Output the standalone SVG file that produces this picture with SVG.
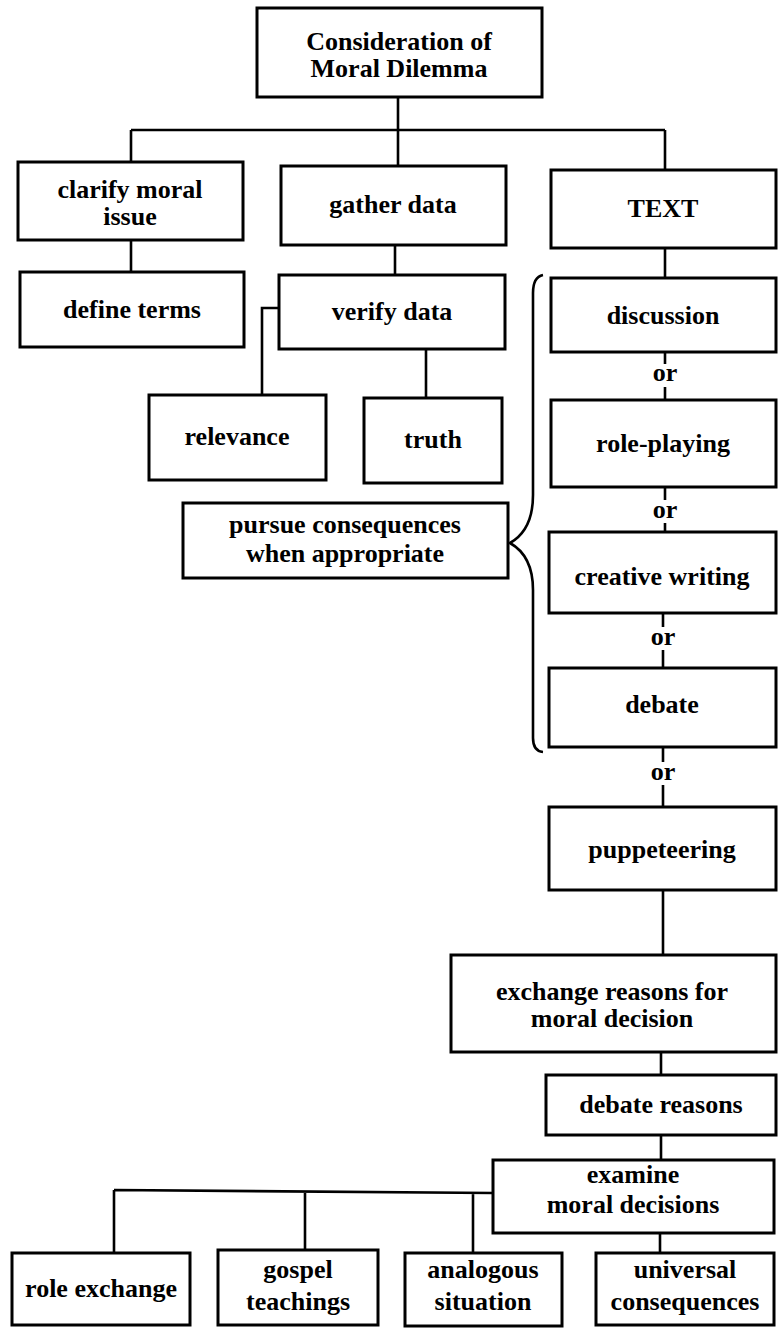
<svg xmlns="http://www.w3.org/2000/svg" width="778" height="1329" viewBox="0 0 778 1329">
<style>
.box{fill:#fff;stroke:#000;stroke-width:3}
.ln{fill:none;stroke:#000;stroke-width:2.6}
text{font-family:"Liberation Serif","Times New Roman",serif;font-weight:bold;font-size:26px;fill:#000;text-anchor:middle}
</style>
<rect width="778" height="1329" fill="#fff"/>
<g id="connectors">
<path class="ln" d="M398,97 V130 M131,130 H665 M131,130 V162 M398,130 V166 M665,130 V170"/>
<path class="ln" d="M131,240 V272 M395,245 V275 M665,248 V278"/>
<path class="ln" d="M279,308 H262 V395 M426,349 V398"/>
<path class="ln" d="M665,352 V364 M665,387 V400 M665,487 V500 M665,523 V532"/>
<path class="ln" d="M663,613 V627 M663,650 V668 M663,747 V762 M663,785 V807"/>
<path class="ln" d="M663,890 V955 M661,1052 V1075 M661,1135 V1160"/>
<path class="ln" d="M493,1193 L114,1190 M114,1190 V1253 M305,1191 V1250 M473,1192 V1253 M660,1233 V1253"/>
<path class="ln" d="M543,275 Q533,277 533,293 L533,495 Q533,530 510,543 Q533,556 533,590 L533,738 Q533,751 543,752"/>
<text x="665" y="381">or</text>
<text x="665" y="518">or</text>
<text x="663" y="645">or</text>
<text x="663" y="780">or</text>
</g>
<g id="root"><rect class="box" x="257" y="8" width="285" height="89"/><text x="399" y="50">Consideration of</text><text x="399" y="77">Moral Dilemma</text></g>
<g id="clarify"><rect class="box" x="18" y="162" width="225" height="78"/><text x="130" y="198">clarify moral</text><text x="130" y="225">issue</text></g>
<g id="gather"><rect class="box" x="281" y="166" width="225" height="79"/><text x="393" y="213">gather data</text></g>
<g id="text"><rect class="box" x="551" y="170" width="225" height="78"/><text x="663" y="217">TEXT</text></g>
<g id="define"><rect class="box" x="20" y="272" width="224" height="75"/><text x="132" y="318">define terms</text></g>
<g id="verify"><rect class="box" x="279" y="275" width="226" height="74"/><text x="392" y="320">verify data</text></g>
<g id="discussion"><rect class="box" x="551" y="278" width="225" height="74"/><text x="663" y="324">discussion</text></g>
<g id="relevance"><rect class="box" x="149" y="395" width="177" height="85"/><text x="237" y="445">relevance</text></g>
<g id="truth"><rect class="box" x="364" y="398" width="138" height="85"/><text x="433" y="448">truth</text></g>
<g id="roleplaying"><rect class="box" x="551" y="400" width="225" height="87"/><text x="663" y="452">role-playing</text></g>
<g id="pursue"><rect class="box" x="183" y="503" width="325" height="75"/><text x="345" y="533">pursue consequences</text><text x="345" y="562">when appropriate</text></g>
<g id="creative"><rect class="box" x="549" y="532" width="227" height="81"/><text x="662" y="585">creative writing</text></g>
<g id="debate"><rect class="box" x="549" y="668" width="227" height="79"/><text x="662" y="713">debate</text></g>
<g id="puppeteering"><rect class="box" x="549" y="807" width="227" height="83"/><text x="662" y="858">puppeteering</text></g>
<g id="exchange"><rect class="box" x="451" y="955" width="325" height="97"/><text x="612" y="1000">exchange reasons for</text><text x="612" y="1027">moral decision</text></g>
<g id="debatereasons"><rect class="box" x="546" y="1075" width="230" height="60"/><text x="661" y="1113">debate reasons</text></g>
<g id="examine"><rect class="box" x="493" y="1160" width="281" height="73"/><text x="633" y="1183">examine</text><text x="633" y="1213">moral decisions</text></g>
<g id="roleexchange"><rect class="box" x="12" y="1253" width="178" height="72"/><text x="101" y="1297">role exchange</text></g>
<g id="gospel"><rect class="box" x="218" y="1250" width="160" height="75"/><text x="298" y="1278">gospel</text><text x="298" y="1310">teachings</text></g>
<g id="analogous"><rect class="box" x="405" y="1253" width="157" height="73"/><text x="483" y="1278">analogous</text><text x="483" y="1310">situation</text></g>
<g id="universal"><rect class="box" x="596" y="1253" width="178" height="72"/><text x="685" y="1278">universal</text><text x="685" y="1310">consequences</text></g>
</svg>
